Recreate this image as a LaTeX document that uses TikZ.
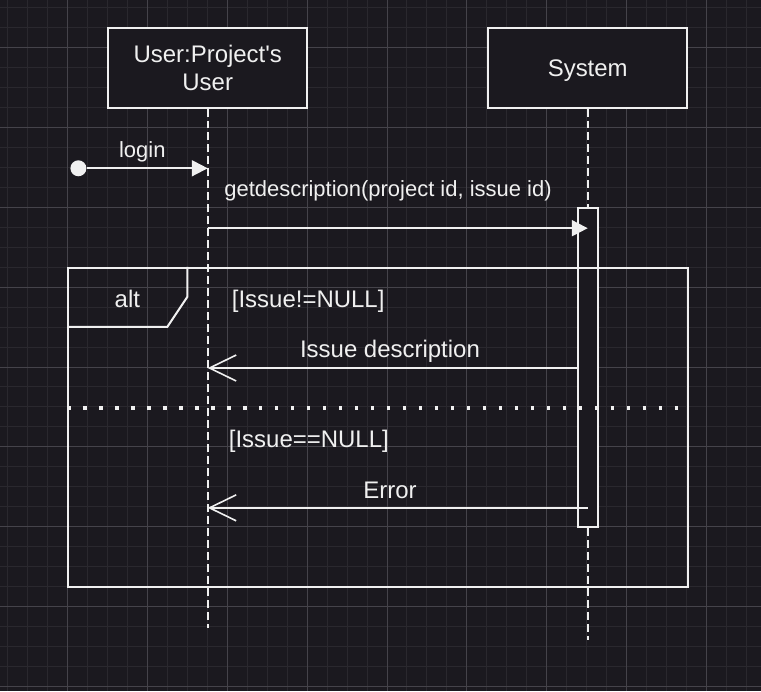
\documentclass[tikz,border=0pt]{standalone}
\usepackage{fontspec}
\setmainfont{Liberation Sans}
\usetikzlibrary{arrows.meta}
\definecolor{bgcol}{HTML}{1B191F}
\definecolor{gridminor}{HTML}{2A282E}
\definecolor{gridmajor}{HTML}{45434A}
\definecolor{ink}{HTML}{F0F0F0}
\begin{document}
\begin{tikzpicture}[x=0.75pt, y=-0.75pt,
    every node/.style={text=ink, font=\fontsize{18pt}{21pt}\selectfont},
    small/.style={font=\fontsize{16.5pt}{21pt}\selectfont},
    actor/.style={draw=ink, line width=1.5pt, fill=bgcol, minimum width=149.5pt, minimum height=59.5pt, align=center, inner sep=0pt},
    lifeline/.style={draw=ink, line width=1.5pt, dash pattern=on 6pt off 3pt},
    actbar/.style={draw=ink, line width=1.5pt, fill=bgcol, minimum width=15pt, minimum height=239pt, inner sep=0pt},
    msg/.style={draw=ink, line width=1.5pt, -{Triangle[length=12pt, width=12pt]}},
    reply/.style={draw=ink, line width=1.5pt, -{Straight Barb[length=20pt, width=19.5pt, line width=1.2pt]}},
    altframe/.style={draw=ink, line width=1.5pt, minimum width=465pt, minimum height=239.5pt, inner sep=0pt},
    sep/.style={draw=ink, line width=2.5pt, dash pattern=on 2.5pt off 9.5pt}]
    % Background and grid
    \fill[bgcol] (0,0) rectangle (761,691);
    \foreach \i in {0,...,37} {
        \draw[gridminor, line width=0.75pt] ({7+\i*20},0) -- ({7+\i*20},691);
    }
    \foreach \i in {0,...,34} {
        \draw[gridminor, line width=0.75pt] (0,{7+\i*20}) -- (761,{7+\i*20});
    }
    \foreach \i in {0,...,8} {
        \draw[gridmajor, line width=0.75pt] ({67+\i*80},0) -- ({67+\i*80},691);
    }
    \foreach \i in {0,...,8} {
        \draw[gridmajor, line width=0.75pt] (0,{47+\i*80}) -- (761,{47+\i*80});
    }
    % Participants
    \node[actor] (user) at (207.5,67.5) {User:Project\textquotesingle s\\User};
    \node[actor] (system) at (588,67.5) {\raisebox{-2.25pt}[\height][\depth]{System}};
    % Lifelines
    \coordinate (userend) at (207.5,628);
    \coordinate (sysend) at (588,640);
    \draw[lifeline] (user) -- (userend);
    \draw[lifeline] (system) -- (sysend);
    % Activation bar
    \node[actbar] (act) at (588,367.5) {};
    % Found message
    \node[circle, fill=ink, minimum size=12pt, inner sep=0pt] (start) at (78,168) {};
    \coordinate (loginend) at (207.5,168);
    \draw[msg] (start) -- (loginend);
    \node[small] (loginlbl) at (142,152) {login};
    % Request
    \coordinate (req) at (207.5,228);
    \coordinate (reqend) at (588,228);
    \draw[msg] (req) -- (reqend);
    \node[small] (reqlbl) at (388,191) {getdescription(project id, issue id)};
    % Alt fragment
    \node[altframe] (alt) at (378,427.5) {};
    \draw[draw=ink, line width=1.5pt] (alt.north west) ++(120,0) -- ++(0,30) -- ++(-20,30) -- ++(-100,0);
    \node (altlbl) at (127,299) {alt};
    \node[anchor=west] (guard1) at (227,301) {[Issue!=NULL]};
    \node[anchor=west] (guard2) at (224,441) {[Issue==NULL]};
    % Replies
    \coordinate (rep1) at (578,368);
    \draw[reply] (rep1) -- (rep1 -| user);
    \node (rep1lbl) at (390,351) {Issue description};
    \draw[sep] (alt.west |- 0,408) -- (alt.east |- 0,408);
    \coordinate (rep2) at (588,508);
    \draw[reply] (rep2) -- (rep2 -| user);
    \node (rep2lbl) at (390,491) {Error};
\end{tikzpicture}
\end{document}
